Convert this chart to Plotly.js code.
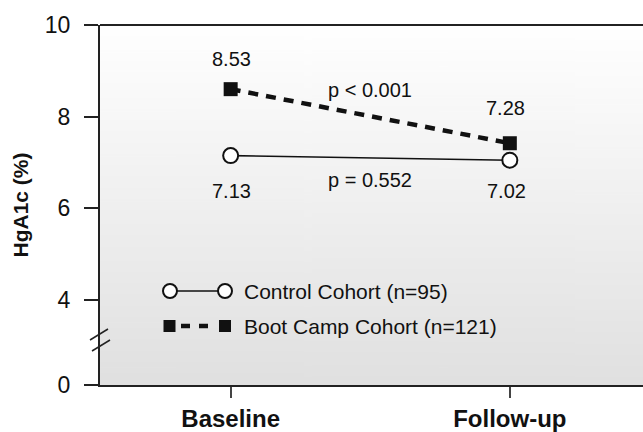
<!DOCTYPE html>
<html>
<head>
<meta charset="utf-8">
<script src="https://cdn.plot.ly/plotly-3.0.1.min.js"></script>
<style>html,body{margin:0;padding:0;background:#fff;}#chart{width:643px;height:432px;}</style>
</head>
<body>
<div id="chart"></div>
<script>
// ---- data ----
const categories = ['Baseline', 'Follow-up'];
const controlName = 'Control Cohort (n=95)';
const bootName = 'Boot Camp Cohort (n=121)';
// positions of the marks
const controlValues = [7.15, 7.05];
const bootValues = [8.60, 7.42];
// values printed next to the marks
const controlLabels = ['7.13', '7.02'];
const bootLabels = ['8.53', '7.28'];
const pLabels = ['p = 0.552', 'p < 0.001'];
const yTickText = ['0', '4', '6', '8', '10'];
const yTickNumbers = [4, 6, 8, 10];

// broken axis: the "0" tick sits at the axis floor
const AXIS_FLOOR = 2.145;
const yTickVals = [AXIS_FLOOR].concat(yTickNumbers);

// plot-area geometry helpers (pixels -> paper)
const L = 100, T = 25, W = 543, H = 360;
const px = x => (x - L) / W;
const py = y => (T + H - y) / H;

// gradient background image
const cv = document.createElement('canvas');
cv.width = 4; cv.height = 256;
const ctx = cv.getContext('2d');
const g = ctx.createLinearGradient(0, 0, 0, 256);
g.addColorStop(0, '#ffffff');
g.addColorStop(1, '#e0e0e0');
ctx.fillStyle = g; ctx.fillRect(0, 0, 4, 256);
const bg = cv.toDataURL('image/png');

const FONT = 'Liberation Sans, Arial, Helvetica, sans-serif';

const traces = [
  {
    x: categories, y: bootValues, name: bootName, type: 'scatter', mode: 'lines+markers',
    line: {color: '#111', width: 4.5, dash: '10px,8px'},
    marker: {symbol: 'square', size: 14, color: '#111', line: {width: 0}},
    cliponaxis: false
  },
  {
    x: categories, y: controlValues, name: controlName, type: 'scatter', mode: 'lines+markers',
    line: {color: '#111', width: 1.6},
    marker: {symbol: 'circle', size: 15, color: '#fff', line: {color: '#111', width: 2}},
    cliponaxis: false
  }
];

const annFont = {family: FONT, size: 20, color: '#111'};
const annotations = [];
// value labels
bootValues.forEach((v, i) => annotations.push({
  x: categories[i], y: v, xref: 'x', yref: 'y', text: bootLabels[i], showarrow: false,
  yshift: i === 0 ? 30 : 35, xshift: i === 0 ? 1 : -4, font: annFont
}));
controlValues.forEach((v, i) => annotations.push({
  x: categories[i], y: v, xref: 'x', yref: 'y', text: controlLabels[i], showarrow: false,
  yshift: i === 0 ? -35 : -31, xshift: i === 0 ? 1 : -3, font: annFont
}));
// p-values
annotations.push({x: 0.5, y: (bootValues[0] + bootValues[1]) / 2, xref: 'x', yref: 'y',
  text: pLabels[1], showarrow: false, yshift: 26, font: annFont});
annotations.push({x: 0.5, y: (controlValues[0] + controlValues[1]) / 2, xref: 'x', yref: 'y',
  text: pLabels[0], showarrow: false, yshift: -22, font: annFont});
// custom legend text
const legFont = {family: FONT, size: 21, color: '#111'};
annotations.push({x: px(242), y: py(291), xref: 'paper', yref: 'paper', xanchor: 'left', yanchor: 'middle',
  text: controlName, showarrow: false, font: legFont});
annotations.push({x: px(242), y: py(326), xref: 'paper', yref: 'paper', xanchor: 'left', yanchor: 'middle',
  text: bootName, showarrow: false, font: legFont});

const shapes = [
  // top border
  {type: 'line', xref: 'paper', yref: 'paper', x0: 0, x1: 1, y0: 1, y1: 1, line: {color: '#222', width: 2}},
  // axis break marks
  {type: 'line', xref: 'paper', yref: 'paper', x0: px(90), y0: py(340), x1: px(108), y1: py(329), line: {color: '#222', width: 1.5}},
  {type: 'line', xref: 'paper', yref: 'paper', x0: px(92), y0: py(351), x1: px(110), y1: py(340), line: {color: '#222', width: 1.5}},
  // legend: control
  {type: 'line', xref: 'paper', yref: 'paper', x0: px(177), x1: px(218), y0: py(291), y1: py(291), line: {color: '#111', width: 1.6}},
  {type: 'circle', xref: 'paper', yref: 'paper', xsizemode: 'pixel', ysizemode: 'pixel',
    xanchor: px(170), yanchor: py(291), x0: -7, x1: 7, y0: -7, y1: 7, fillcolor: '#fff', line: {color: '#111', width: 2}},
  {type: 'circle', xref: 'paper', yref: 'paper', xsizemode: 'pixel', ysizemode: 'pixel',
    xanchor: px(225), yanchor: py(291), x0: -7, x1: 7, y0: -7, y1: 7, fillcolor: '#fff', line: {color: '#111', width: 2}},
  // legend: boot camp
  {type: 'line', xref: 'paper', yref: 'paper', x0: px(181), x1: px(210), y0: py(326), y1: py(326), line: {color: '#111', width: 4.5, dash: '9px,9px'}},
  {type: 'rect', xref: 'paper', yref: 'paper', xsizemode: 'pixel', ysizemode: 'pixel',
    xanchor: px(169.5), yanchor: py(326), x0: -6, x1: 6, y0: -6, y1: 6, fillcolor: '#111', line: {width: 0}},
  {type: 'rect', xref: 'paper', yref: 'paper', xsizemode: 'pixel', ysizemode: 'pixel',
    xanchor: px(225), yanchor: py(326), x0: -6, x1: 6, y0: -6, y1: 6, fillcolor: '#111', line: {width: 0}}
];

const layout = {
  width: 643, height: 432,
  margin: {l: L, r: 643 - L - W, t: T, b: 432 - T - H, pad: 0},
  paper_bgcolor: '#fff', plot_bgcolor: 'rgba(0,0,0,0)',
  font: {family: FONT, color: '#111'},
  showlegend: false,
  images: [{source: bg, xref: 'paper', yref: 'paper', x: 0, y: 1, sizex: 1, sizey: 1,
    xanchor: 'left', yanchor: 'top', sizing: 'stretch', layer: 'below'}],
  xaxis: {
    type: 'category', categoryarray: categories, range: [-0.468, 1.477],
    showgrid: false, zeroline: false, showline: true, linecolor: '#222', linewidth: 2,
    ticks: 'outside', ticklen: 11, tickwidth: 2, tickcolor: '#444',
    tickfont: {family: FONT, size: 24, color: '#111', weight: 'bold'},
    ticklabelstandoff: 0, fixedrange: true
  },
  yaxis: {
    range: [AXIS_FLOOR, 10], tickvals: yTickVals, ticktext: yTickText,
    showgrid: false, zeroline: false, showline: true, linecolor: '#222', linewidth: 2,
    ticks: 'outside', ticklen: 14, tickwidth: 2, tickcolor: '#222',
    tickfont: {family: FONT, size: 23, color: '#111'},
    ticklabelstandoff: 9,
    title: {text: 'HgA1c (%)', font: {family: FONT, size: 21, color: '#111', weight: 'bold'}, standoff: 10},
    fixedrange: true
  },
  annotations: annotations,
  shapes: shapes
};

Plotly.newPlot('chart', traces, layout, {displayModeBar: false, staticPlot: true});
</script>
</body>
</html>
